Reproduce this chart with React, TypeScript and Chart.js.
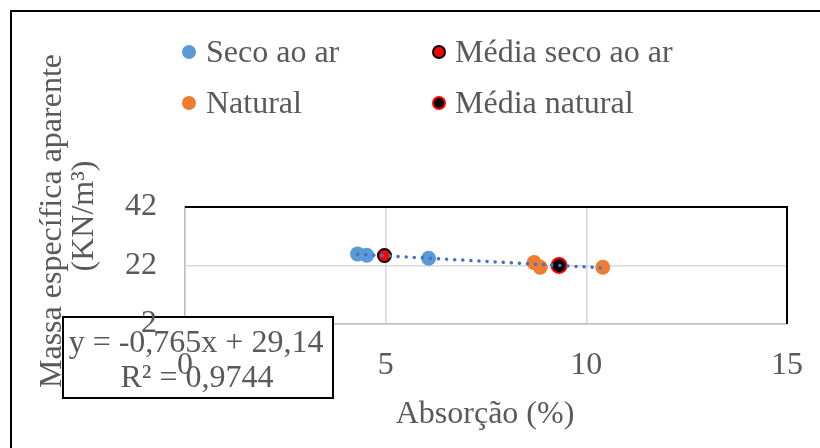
import React, { useEffect, useRef } from 'react';
import { Chart, registerables } from 'chart.js';

Chart.register(...registerables);

const secoX = [4.3, 4.53, 6.07];
const secoY = [25.96, 25.5, 24.5];
const mediaSecoX = [4.97];
const mediaSecoY = [25.4];
const naturalX = [8.7, 8.85, 10.41];
const naturalY = [23.0, 21.4, 21.4];
const mediaNaturalX = [9.32];
const mediaNaturalY = [22.0];
const trendX = [4.3, 10.41];
const trendY = [25.85, 21.18];

const xTicks = [0, 5, 10, 15];
const yTicks = [2, 22, 42];
const legendLabels = ['Seco ao ar', 'Média seco ao ar', 'Natural', 'Média natural'];
const equationLines = ['y = -0,765x + 29,14', 'R² = 0,9744'];
const xTitle = 'Absorção (%)';
const yTitleLines = ['Massa específica aparente', '(KN/m³)'];

const FONT = "'Liberation Serif', 'Times New Roman', serif";
const TEXT = '#595959';
const BLUE = '#5B9BD5';
const ORANGE = '#ED7D31';

const pts = (xs: number[], ys: number[]) => xs.map((x, i) => ({ x, y: ys[i] }));

const decor = {
  id: 'decor',
  beforeDraw(chart: any) {
    const ctx = chart.ctx;
    ctx.save();
    ctx.strokeStyle = '#000';
    ctx.lineWidth = 2;
    ctx.strokeRect(11, 11, 900, 600);
    ctx.restore();
  },
  beforeDatasetsDraw(chart: any) {
    const ctx = chart.ctx;
    const a = chart.chartArea;
    ctx.save();
    ctx.strokeStyle = '#000';
    ctx.lineWidth = 2;
    ctx.beginPath();
    ctx.moveTo(a.left, a.top);
    ctx.lineTo(a.right, a.top);
    ctx.lineTo(a.right, a.bottom);
    ctx.stroke();
    ctx.fillStyle = TEXT;
    ctx.font = `32px ${FONT}`;
    ctx.textAlign = 'center';
    ctx.textBaseline = 'alphabetic';
    ctx.fillText(xTitle, 485, 423);
    const yPos = [
      [61, 221],
      [93, 216],
    ];
    yTitleLines.forEach((t, i) => {
      ctx.save();
      ctx.translate(yPos[i][0], yPos[i][1]);
      ctx.rotate(-Math.PI / 2);
      ctx.fillText(t, 0, 0);
      ctx.restore();
    });
    ctx.restore();
  },
  afterDatasetsDraw(chart: any) {
    const ctx = chart.ctx;
    ctx.save();
    ctx.fillStyle = '#fff';
    ctx.fillRect(63, 317, 270, 81);
    ctx.strokeStyle = '#000';
    ctx.lineWidth = 2;
    ctx.strokeRect(63, 317, 270, 81);
    ctx.fillStyle = TEXT;
    ctx.font = `32px ${FONT}`;
    ctx.textAlign = 'center';
    ctx.textBaseline = 'alphabetic';
    ctx.fillText(equationLines[0], 196, 352);
    ctx.fillText(equationLines[1], 197, 387);
    ctx.restore();
  },
  afterDraw(chart: any) {
    const ctx = chart.ctx;
    ctx.save();
    const items = [
      { mx: 189, my: 52, tx: 206, ty: 62, fill: BLUE, stroke: null, r: 7 },
      { mx: 439, my: 52, tx: 455, ty: 62, fill: '#FF0000', stroke: '#000', r: 6 },
      { mx: 189, my: 103, tx: 206, ty: 113, fill: ORANGE, stroke: null, r: 7 },
      { mx: 439, my: 103, tx: 455, ty: 113, fill: '#000', stroke: '#FF0000', r: 6 },
    ];
    items.forEach((it, i) => {
      ctx.beginPath();
      ctx.arc(it.mx, it.my, it.r, 0, Math.PI * 2);
      ctx.fillStyle = it.fill;
      ctx.fill();
      if (it.stroke) {
        ctx.strokeStyle = it.stroke;
        ctx.lineWidth = 2;
        ctx.stroke();
      }
      ctx.fillStyle = TEXT;
      ctx.font = `32px ${FONT}`;
      ctx.textAlign = 'left';
      ctx.textBaseline = 'alphabetic';
      ctx.fillText(legendLabels[i], it.tx, it.ty);
    });
    ctx.restore();
  },
};

export default function App() {
  const ref = useRef<HTMLCanvasElement | null>(null);
  useEffect(() => {
    if (!ref.current) return;
    const chart = new Chart(ref.current, {
      type: 'scatter',
      data: {
        datasets: [
          {
            label: 'Linear',
            data: pts(trendX, trendY),
            showLine: true,
            borderColor: '#4472C4',
            borderWidth: 3.5,
            borderDash: [0.1, 8],
            borderCapStyle: 'round',
            pointRadius: 0,
            order: 0,
          } as any,
          {
            label: legendLabels[1],
            data: pts(mediaSecoX, mediaSecoY),
            backgroundColor: '#FF0000',
            borderColor: '#000',
            borderWidth: 2,
            pointRadius: 6.5,
            order: 1,
          },
          {
            label: legendLabels[3],
            data: pts(mediaNaturalX, mediaNaturalY),
            backgroundColor: '#000',
            borderColor: '#FF0000',
            borderWidth: 2,
            pointRadius: 7.5,
            order: 1,
          },
          {
            label: legendLabels[0],
            data: pts(secoX, secoY),
            backgroundColor: BLUE,
            borderWidth: 0,
            pointRadius: 7.5,
            order: 2,
          },
          {
            label: legendLabels[2],
            data: pts(naturalX, naturalY),
            backgroundColor: ORANGE,
            borderWidth: 0,
            pointRadius: 7.5,
            order: 2,
          },
        ],
      },
      options: {
        responsive: false,
        animation: false,
        devicePixelRatio: 1,
        layout: { padding: { left: 0, right: 33, top: 207, bottom: 0 } },
        plugins: { legend: { display: false }, tooltip: { enabled: false } },
        scales: {
          x: {
            type: 'linear',
            min: 0,
            max: 15,
            afterBuildTicks: (s: any) => {
              s.ticks = xTicks.map((v) => ({ value: v }));
            },
            afterFit: (s: any) => {
              s.height = 124;
              s.paddingLeft = 0;
              s.paddingRight = 0;
            },
            grid: { color: '#d9d9d9', lineWidth: 1.5, drawTicks: false },
            border: { color: '#bfbfbf', width: 1.5 },
            ticks: {
              z: 1,
              padding: 22,
              color: TEXT,
              font: { family: FONT, size: 32 },
              maxRotation: 0,
            },
          },
          y: {
            type: 'linear',
            min: 2,
            max: 42,
            afterBuildTicks: (s: any) => {
              s.ticks = yTicks.map((v) => ({ value: v }));
            },
            afterFit: (s: any) => {
              s.width = 185;
              s.paddingTop = 0;
              s.paddingBottom = 0;
            },
            grid: { color: '#d9d9d9', lineWidth: 1.5, drawTicks: false },
            border: { color: '#bfbfbf', width: 1.5 },
            ticks: {
              z: 1,
              padding: 28,
              color: TEXT,
              font: { family: FONT, size: 32 },
            },
          },
        },
      },
      plugins: [decor],
    } as any);
    return () => chart.destroy();
  }, []);
  return (
    <div style={{ position: 'absolute', left: 0, top: 0, width: 820, height: 448 }}>
      <canvas ref={ref} width={820} height={448} />
    </div>
  );
}
